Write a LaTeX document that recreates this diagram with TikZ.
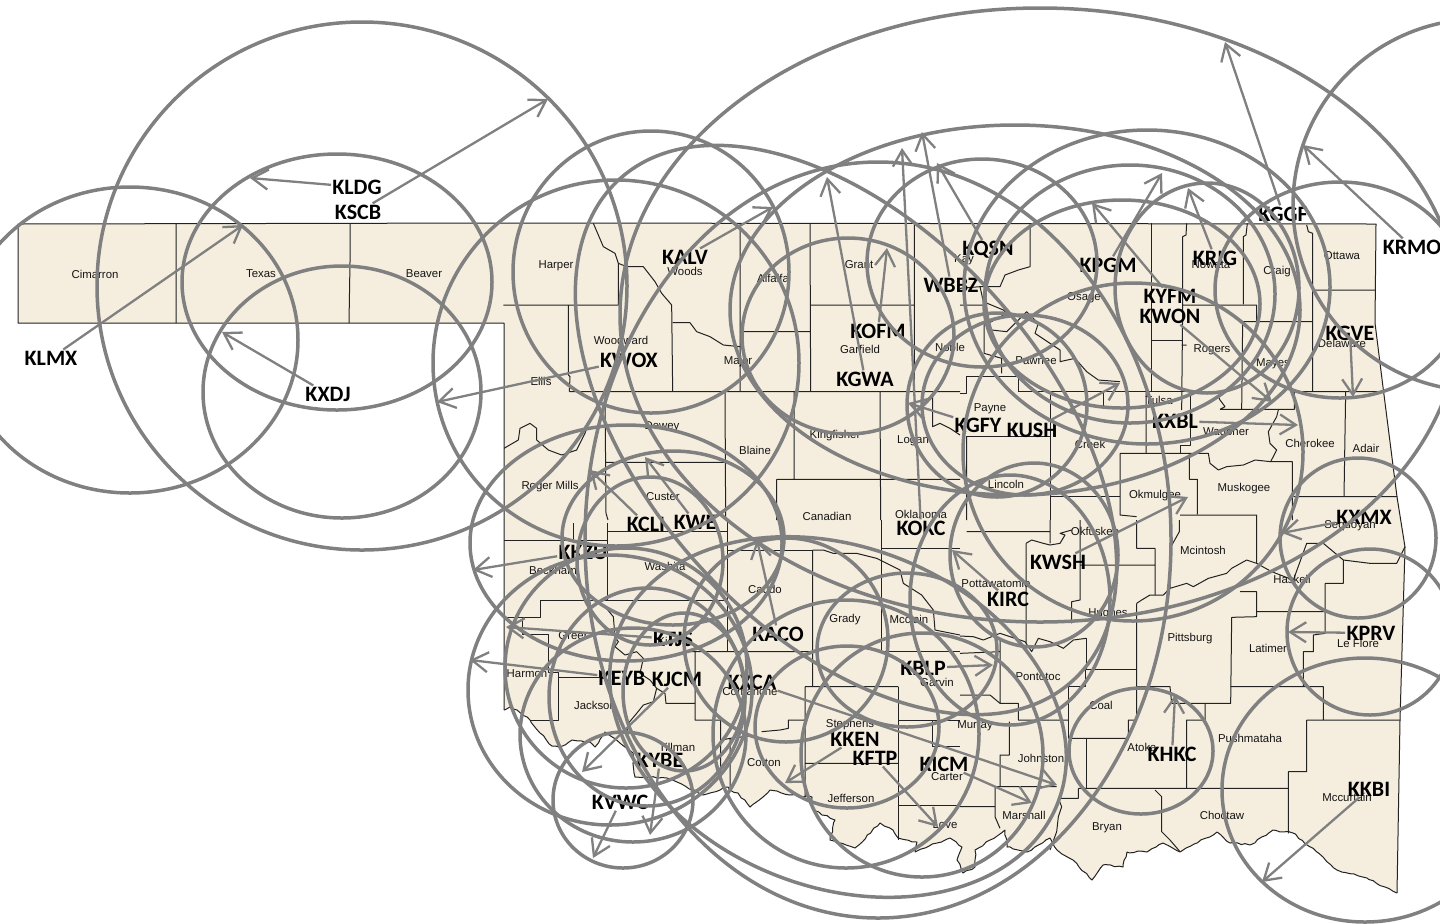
\documentclass[tikz,border=0pt]{standalone}
\usepackage{fontspec}
\setmainfont{Liberation Sans}
\newfontfamily\labfont{Carlito}[BoldFont=Carlito Bold]
\usetikzlibrary{arrows.meta,decorations.pathmorphing}
\definecolor{mapfill}{HTML}{F5EEDF}
\definecolor{ringgray}{HTML}{808080}
\definecolor{ctyline}{HTML}{222222}
\tikzset{
  cty/.style={draw=ctyline,line width=0.5pt,line join=round},
  river/.style={cty,decorate,decoration={random steps,segment length=2.2pt,amplitude=0.45pt}},
  ctyname/.style={font=\fontsize{5.7}{6}\selectfont,text=black!92,inner sep=0pt,yshift=-0.5pt},
  lab/.style={font=\labfont\bfseries\fontsize{11}{12}\selectfont,text=black,inner sep=0.5pt,yshift=-0.5pt},
  ring/.style={draw=ringgray,line width=1.75pt},
  arr/.style={draw=ringgray,line width=1.15pt,-{Straight Barb[length=8pt,width=10pt,line width=1.15pt]}},
  zone1/.style={shift={(480,120)},scale=0.33333},
  zone2/.style={shift={(960,120)},scale=0.33333},
  zone3/.style={shift={(480,520)},scale=0.33333},
  zone4/.style={shift={(960,520)},scale=0.33333}
}
\begin{document}
\begin{tikzpicture}[x=0.5pt,y=-0.5pt]
\pgfmathsetseed{7}
\useasboundingbox (0,0) rectangle (1440,923);
\clip (0,0) rectangle (1440,923);
% state outline
\fill[mapfill] (18,224) -- (503,223) -- (1376,224) -- (1375,323) -- (1383,387) -- (1397,497) -- (1405,547) -- (1400,720) -- (1397,893)
 -- (1367,878) -- (1337,870) -- (1323,857) -- (1293,833) -- (1273,830) -- (1250,845) -- (1230,843) -- (1217,832) -- (1180,852) -- (1163,843) -- (1147,852) -- (1127,852) -- (1123,867) -- (1103,865) -- (1092,880) -- (1073,860) -- (1057,850) -- (1050,838) -- (1027,852) -- (1007,847) -- (1005,830) -- (975,850) -- (975,867) -- (963,873) -- (957,860) -- (962,847) -- (950,838) -- (937,843) -- (915,852) -- (917,842) -- (898,838) -- (893,830) -- (880,823) -- (855,848) -- (830,840) -- (835,820) -- (813,810) -- (812,797) -- (790,795) -- (770,790) -- (763,797) -- (750,807) -- (738,793) -- (730,790) -- (728,787) -- (703,795) -- (693,790) -- (677,782) -- (667,778) -- (635,777) -- (633,753) -- (625,747) -- (605,732) -- (595,747) -- (590,742) -- (572,740) -- (560,747) -- (552,746) -- (540,733) -- (530,720) -- (517,710) -- (510,707) -- (504,710) -- (504,323) -- (18,323) -- cycle;
\draw[cty] (504,710) -- (504,323) -- (18,323) -- (18,224) -- (503,223) -- (1376,224) -- (1375,323) -- (1383,387) -- (1397,497) -- (1405,547) -- (1400,720) -- (1397,893);
\draw[river] (1397,893) -- (1367,878) -- (1337,870) -- (1323,857) -- (1293,833) -- (1273,830) -- (1250,845) -- (1230,843) -- (1217,832) -- (1180,852) -- (1163,843) -- (1147,852) -- (1127,852) -- (1123,867) -- (1103,865) -- (1092,880) -- (1073,860) -- (1057,850) -- (1050,838) -- (1027,852) -- (1007,847) -- (1005,830) -- (975,850) -- (975,867) -- (963,873) -- (957,860) -- (962,847) -- (950,838) -- (937,843) -- (915,852) -- (917,842) -- (898,838) -- (893,830) -- (880,823) -- (855,848) -- (830,840) -- (835,820) -- (813,810) -- (812,797) -- (790,795) -- (770,790) -- (763,797) -- (750,807) -- (738,793) -- (730,790) -- (728,787) -- (703,795) -- (693,790) -- (677,782) -- (667,778) -- (635,777) -- (633,753) -- (625,747) -- (605,732) -- (595,747) -- (590,742) -- (572,740) -- (560,747) -- (552,746) -- (540,733) -- (530,720) -- (517,710) -- (510,707) -- (504,710);
% panhandle
\draw[cty] (176,224) -- (176,323) (350,224) -- (350,262) -- (349,323);
% north-west counties
\begin{scope}[zone1]
\draw[cty] (70,555) -- (415,555) (265,555) -- (265,765) -- (270,770) -- (268,815);
\draw[cty] (340,310) -- (370,380) -- (405,400) -- (415,430) -- (415,555) (415,430) -- (440,440) -- (490,440) -- (525,485) -- (545,520) -- (575,555) -- (578,815);
\draw[cty] (578,608) -- (630,608) -- (650,635) -- (690,650) -- (730,675) -- (780,680);
\draw[cty] (780,310) -- (780,815) (780,635) -- (990,635) (990,310) -- (992,815);
\draw[cty] (268,815) -- (1440,815) (735,815) -- (737,1200) (1303,310) -- (1303,820);
\draw[cty] (992,555) -- (1303,555) (942,815) -- (942,1078) (890,1078) -- (1200,1078) (890,1078) -- (890,1200) (1200,815) -- (1202,1200) (1202,1078) -- (1440,1078);
\draw[cty] (375,815) -- (378,1180) -- (384,1200) (378,1027) -- (735,1027);
\draw[cty] (72,985) -- (115,960) -- (120,925) -- (150,910) -- (170,925) -- (170,960) -- (205,990) -- (245,1005) -- (290,990) -- (315,940) -- (320,925);
\draw[cty] (1358,820) -- (1358,920) -- (1380,910) -- (1410,925) -- (1440,945);
\end{scope}
% north-east counties
\begin{scope}[zone2]
\draw[cty] (210,310) -- (210,440) -- (175,450) -- (135,465) -- (120,500) -- (60,500) -- (70,545) -- (130,570) -- (140,580) -- (85,610) -- (95,630) -- (140,635) -- (200,575) -- (235,610) -- (225,640) -- (270,670) -- (300,690) -- (300,725) -- (345,715) -- (380,755) -- (415,780) -- (480,785);
\draw[cty] (0,505) -- (60,500) (0,555) -- (70,555) (72,610) -- (72,700) -- (125,715) -- (125,760);
\draw[cty] (575,310) -- (575,815) (575,660) -- (665,660);
\draw[cty] (680,310) -- (678,345) -- (668,350) -- (668,555) -- (665,870) (668,555) -- (890,555) -- (890,605) (665,675) -- (680,675);
\draw[cty] (862,310) -- (858,345) -- (850,350) -- (850,553);
\draw[cty] (1040,315) -- (1045,335) -- (1058,340) -- (1058,815) (1058,510) -- (1245,510) (848,605) -- (1058,605) (848,605) -- (845,868);
\draw[cty] (175,815) -- (690,815) -- (690,975) -- (660,975) -- (660,1000) (430,815) -- (430,865);
\draw[cty] (780,868) -- (1003,868) -- (1003,815) -- (1270,815) (780,868) -- (795,860) -- (780,840) -- (775,830);
\draw[cty] (955,870) -- (950,890) -- (925,935) -- (930,970) -- (950,990) -- (932,1025) -- (997,1025) -- (997,1200);
\draw[cty] (480,1000) -- (745,1000) -- (750,1030) -- (775,1050) -- (800,1040) -- (850,1035) -- (885,1020) -- (932,1025);
\draw[cty] (1157,815) -- (1152,1130) (1000,1130) -- (1312,1130);
\draw[cty] (20,768) -- (175,768) -- (175,815) (20,768) -- (20,820) -- (0,820) (20,948) -- (272,948) (272,815) -- (272,1200) (272,1130) -- (480,1130);
\draw[cty] (480,1000) -- (480,1185) -- (530,1190) (558,815) -- (558,1000) (688,1000) -- (688,1078) -- (712,1078) -- (712,1182) (660,1185) -- (890,1185) -- (890,1200) (20,948) -- (20,1200);
\end{scope}
% south-west counties
\begin{scope}[zone3]
\draw[cty] (72,60) -- (383,60) (280,10) -- (280,60) (383,10) -- (383,240) (383,35) -- (742,35) (742,0) -- (742,395);
\draw[cty] (72,292) -- (180,292) -- (180,240) -- (740,240);
\draw[cty] (128,292) -- (128,343) -- (205,343) -- (205,458) -- (235,458) -- (235,600) -- (150,600) (235,473) -- (358,473) -- (358,450);
\draw[cty] (375,260) -- (400,290) -- (405,350) -- (415,365) -- (405,380) -- (435,405) -- (470,395) -- (490,415) -- (480,460) -- (510,480) -- (530,505) -- (520,545) -- (490,555) -- (470,580) -- (445,610) -- (440,640);
\draw[cty] (530,505) -- (555,520) -- (558,550) -- (645,550) (610,395) -- (1000,395) (645,395) -- (645,600) -- (722,600) -- (722,770);
\draw[cty] (725,660) -- (750,655) -- (830,645) (750,655) -- (750,810);
\draw[cty] (998,90) -- (998,500) (975,500) -- (1255,500) (975,500) -- (975,830) (975,600) -- (925,600) -- (925,625) -- (900,630) -- (845,635) (975,730) -- (1255,730);
\draw[cty] (1255,500) -- (1255,960) (1258,600) -- (1440,600) (1258,855) -- (1440,855) (1358,600) -- (1358,680) -- (1440,680);
\draw[cty] (998,90) -- (1030,90) -- (1060,100) -- (1130,100) -- (1190,115) -- (1260,150) -- (1270,190) -- (1325,225) -- (1360,270) -- (1365,330) -- (1440,345);
\draw[cty] (742,90) -- (998,90) (1205,0) -- (1205,395) (1205,85) -- (1440,85) (1205,395) -- (1440,395);
\end{scope}
% south-east counties
\begin{scope}[zone4]
\draw[cty] (20,35) -- (270,35) (270,0) -- (270,70) (198,70) -- (198,370) (198,70) -- (215,60) -- (250,70) -- (270,75) -- (300,70) -- (315,45) -- (300,40) -- (335,30) (360,0) -- (360,240) -- (335,245) -- (335,310);
\draw[cty] (360,135) -- (585,135) (585,85) -- (585,225) (530,0) -- (530,85) -- (585,85) (630,85) -- (658,35) -- (658,0) (630,85) -- (630,205);
\draw[cty] (530,250) -- (545,240) -- (570,225) -- (610,225) -- (630,205) -- (680,190) -- (700,200) -- (745,175) -- (800,160) -- (815,145) -- (860,120) -- (890,130) -- (935,155) -- (1000,180) -- (1040,70) -- (1090,70) -- (1150,120) -- (1230,130) -- (1310,130) -- (1335,80);
\draw[cty] (890,0) -- (890,130) (840,215) -- (890,215) -- (890,290) -- (815,292) -- (812,550) -- (735,550) -- (735,600) -- (680,600) -- (680,805);
\draw[cty] (890,275) -- (1095,275) (1095,190) -- (1150,190) -- (1150,120) (1095,190) -- (1095,340) -- (1060,345) -- (1060,395) -- (1030,395) -- (1030,500) (812,500) -- (1090,500) -- (1090,600) (1040,600) -- (1320,600) (1040,600) -- (1040,755) -- (985,755) -- (985,940);
\draw[cty] (355,805) -- (985,805) (585,810) -- (605,830) -- (605,935) -- (630,960) -- (660,995);
\draw[cty] (530,250) -- (530,600) -- (505,600) -- (505,655) -- (325,655) (530,500) -- (630,500) -- (635,550) -- (735,550);
\draw[cty] (378,447) -- (528,447) (325,500) -- (375,500) -- (375,447) (378,355) -- (378,447) (325,500) -- (325,655) (378,655) -- (378,805);
\draw[cty] (120,360) -- (120,550) -- (175,550) -- (175,600) -- (325,600) (148,605) -- (148,705) -- (120,705) -- (120,800) -- (105,800) -- (105,890) -- (120,925) (105,800) -- (290,800) (355,805) -- (355,835) -- (295,835) -- (305,860) -- (295,890) -- (290,935) -- (270,990);
\draw[cty] (0,400) -- (120,395) (0,525) -- (90,525) -- (120,550) (0,860) -- (105,860);
\draw[cty] (0,348) -- (40,350) -- (70,360) -- (120,340) -- (150,350) -- (195,365) -- (215,395) -- (235,355) -- (270,365) -- (310,385) -- (340,360) -- (378,355);
\end{scope}
% county names
\foreach \t/\x/\y in {Cimarron/95/273,Texas/261/273,Beaver/424/273,Harper/556/265,Woods/685/270,Alfalfa/773/277,Grant/859/264,Kay/964/259,Osage/1084/297,Nowata/1211/264,Craig/1277/271,Ottawa/1342/255,Woodward/621/339,Ellis/541/380,Major/738/361,Garfield/860/348,Noble/950/346,Pawnee/1036/360,Rogers/1212/349,Mayes/1273/363,Delaware/1342/342,Payne/990/408,Dewey/662/426,Blaine/755/449,Kingfisher/835/435,Logan/913/440,Creek/1090/443,Tulsa/1159/399,Wagoner/1226/432,Cherokee/1310/442,Adair/1366/447,Roger Mills/550/486,Custer/663/496,Canadian/827/515,Oklahoma/921/513,Lincoln/1006/483,Okmulgee/1155/495,Muskogee/1244/488,Okfuskee/1095/530,Mcintosh/1203/549,Sequoyah/1350/525,Beckham/553/569,Washita/665/565,Caddo/765/588,Pottawatomie/996/582,Hughes/1108/613,Haskell/1292/578,Grady/845/619,Mcclain/909/618,Greer/573/635,Pittsburg/1190/638,Latimer/1268/647,Le Flore/1358/642,Kiowa/673/640,Harmon/527/673,Pontotoc/1038/676,Garvin/937/681,Comanche/750/690,Jackson/595/704,Coal/1101/704,Stephens/850/724,Murray/975/725,Tillman/677/746,Atoka/1142/746,Pushmataha/1250/737,Cotton/764/762,Johnston/1041/757,Carter/947/776,Jefferson/851/797,Love/945/824,Marshall/1024/814,Bryan/1107/827,Choctaw/1222/814,Mccurtain/1347/796}
  \node[ctyname] at (\x,\y) {\t};
% station labels
\foreach \n/\x/\y in {KLDG/357/186,KSCB/358/211,KLMX/51/357,KXDJ/328/393,KALV/685/256,KWOX/629/359,KOFM/878/330,KGWA/865/378,KQSN/988/249,WBBZ/951/284,KPGM/1108/264,KRIG/1215/257,KGGF/1283/213,KYFM/1170/295,KWON/1170/315,KGVE/1350/332,KRMO/1412/246,KGFY/978/424,KUSH/1032/429,KXBL/1175/420,KXMX/1364/516,KCLI/646/523,KWE/695/521,KKZU/583/551,KOKC/921/527,KWSH/1058/561,KIRC/1008/598,KTJS/673/638,KACO/778/633,KPRV/1371/632,KEYB/622/677,KJCM/677/678,KXCA/752/681,KBLP/923/667,KKEN/855/738,KFTP/875/757,KICM/944/763,KYBE/660/759,KVWC/620/801,KHKC/1172/753,KKBI/1369/788}
  \node[lab] (\n) at (\x,\y) {\n};
% coverage rings
\foreach \x/\y/\a/\b in {130/340/168/153,362/286/265/264,337/282/155/128,342/392/139/126,616/363/183/183,651/272/138/141,1040/315/420/307,848/336/106/98,982/263/115/104,1015/310/285/185,1147/287/183/157,1130/294/145/129,1122/304/138/104,1207/288/92/105,1340/290/125/108,1480/205/187/186,1133/452/170/169,878/540/293/378,997/405/90/92,1025/405/103/90,1034/555/84/92,1365/790/143/132,1141/751/72/63,1370/632/83/83,1358/538/78/80,623/800/70/68,633/735/113/107,647/697/98/109,684/692/61/79,610/690/142/135,626/668/121/120,626/543/156/118,673/538/111/87,650/561/73/84,786/640/102/102,907/650/90/77,847/727/92/81,846/734/133/134,922/755/121/122,1010/600/100/125}
  \draw[ring] (\x,\y) ellipse [x radius=\a,y radius=\b];
\draw[ring,shift={(846,430)},rotate=-48] (0,0) ellipse [x radius=338,y radius=200];
\draw[ring,shift={(838,717)},rotate=-21.5] (0,0) ellipse [x radius=236,y radius=170];
% arrows
\foreach \n/\x/\y in {KLDG/250/178,KSCB/548/99,KLMX/243/225,KXDJ/222/332,KALV/773/207,KWOX/437/402,KOFM/887/248,KGWA/827/177,KOKC/902/148,WBBZ/922/132,KQSN/937/163,KPGM/1162/173,KYFM/1092/203,KRIG/1188/188,KGGF/1225/42,KRMO/1303/145,KWON/1272/402,KGVE/1353/397,KXBL/1298/425,KUSH/1120/383,KGFY/908/403,KXMX/1282/533,KPRV/1288/632,KKBI/1262/882,KHKC/1175/695,KXCA/1057/785,KICM/1032/803,KBLP/993/665,KWSH/1188/497,KKEN/785/783,KFTP/938/827,KACO/757/540,KCLI/590/470,KWE/645/457,KKZU/473/570,KTJS/506/627,KEYB/470/660,KJCM/582/772,KYBE/650/835,KVWC/593/858,KIRC/952/550}
{
  \coordinate (tip\n) at (\x,\y);
  \draw[arr] (\n) -- (tip\n);
}
\end{tikzpicture}
\end{document}
